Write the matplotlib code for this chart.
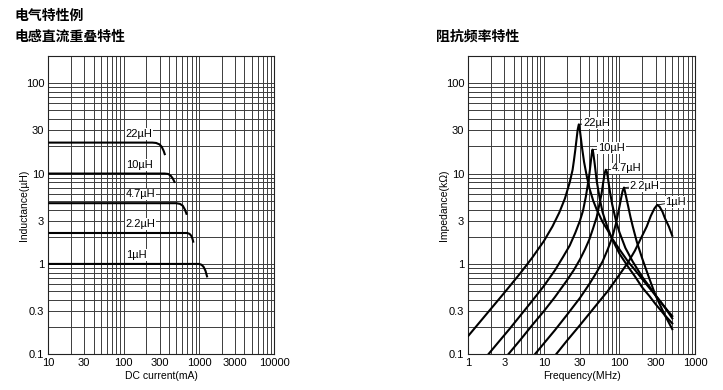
import matplotlib
matplotlib.use('Agg')
import matplotlib.pyplot as plt
from matplotlib.ticker import FixedLocator, FixedFormatter, NullFormatter

plt.rcParams['font.family'] = ['Liberation Sans', 'DejaVu Sans']

# --- DC bias characteristics (current mA -> inductance uH) ---
dc_names = ['22µH', '10µH', '4.7µH', '2.2µH', '1µH']
i_22 = [10, 240, 270, 300, 320, 340, 355]
l_22 = [22, 22, 21.8, 21, 19.8, 17.8, 16]
i_10 = [10, 350, 390, 420, 450, 480]
l_10 = [10, 10, 9.9, 9.5, 8.8, 7.9]
i_47 = [10, 500, 560, 610, 650, 690]
l_47 = [4.7, 4.7, 4.62, 4.4, 4.0, 3.5]
i_22b = [10, 700, 750, 790, 820, 845]
l_22b = [2.2, 2.2, 2.15, 2.05, 1.9, 1.72]
i_1 = [10, 1000, 1080, 1150, 1220, 1290]
l_1 = [1, 1, 0.98, 0.93, 0.84, 0.71]

# --- impedance vs frequency (MHz -> kOhm) ---
z_names = ['22µH', '10µH', '4.7µH', '2.2µH', '1µH']
f_22 = [1, 2, 3, 5, 7, 10, 13, 16, 19, 22, 24, 25, 26, 27, 28, 29, 30, 31, 32, 34,
        37, 40, 45, 50, 60, 70, 80, 100, 130, 160, 200, 250, 300, 400, 500]
z_22 = [0.16, 0.32, 0.48, 0.81, 1.17, 1.79, 2.6, 3.7, 5.3, 8.0, 11.0, 14.0, 18.0,
        23.5, 30.5, 35, 30, 24, 19.3, 13.5, 9.3, 6.9, 5.0, 4.0, 2.9, 2.35, 1.91,
        1.45, 1.06, 0.86, 0.68, 0.54, 0.45, 0.33, 0.265]
f_10 = [1.84, 2.5, 3.5, 5, 7, 10, 14, 18, 22, 26, 30, 33, 36, 38, 40, 42, 43, 44,
        45, 47, 50, 55, 60, 70, 80, 100, 130, 160, 200, 250, 300, 400, 500]
z_10 = [0.1, 0.136, 0.19, 0.275, 0.39, 0.57, 0.85, 1.2, 1.6, 2.2, 3.0, 3.9, 5.6,
        7.4, 9.8, 14, 16.5, 18.4, 17, 12.9, 8.3, 5.2, 3.7, 2.5, 1.88, 1.30, 0.93,
        0.73, 0.55, 0.44, 0.36, 0.27, 0.22]
f_47 = [3.38, 5, 7, 10, 14, 20, 25, 30, 35, 40, 45, 50, 55, 58, 61, 64, 66, 68,
        70, 75, 80, 90, 100, 120, 150, 200, 250, 300, 400, 500]
z_47 = [0.1, 0.148, 0.21, 0.30, 0.43, 0.65, 0.86, 1.12, 1.45, 1.87, 2.5, 3.3, 4.8,
        6.0, 8.0, 10.2, 11, 10.5, 9.2, 6.25, 4.6, 3.0, 2.24, 1.5, 1.06, 0.72, 0.56,
        0.45, 0.33, 0.25]
f_22b = [7.6, 10, 14, 20, 30, 40, 50, 60, 70, 80, 90, 100, 105, 110, 115, 120,
         130, 140, 150, 170, 200, 250, 300, 400, 500]
z_22b = [0.1, 0.132, 0.185, 0.27, 0.42, 0.6, 0.81, 1.07, 1.45, 1.95, 2.8, 4.3,
         5.3, 6.4, 7.0, 6.0, 4.4, 3.3, 2.6, 1.75, 1.15, 0.68, 0.45, 0.27, 0.19]
f_1 = [14.5, 20, 30, 50, 70, 100, 130, 160, 200, 230, 260, 290, 316, 340, 370,
       400, 450, 500]
z_1 = [0.1, 0.14, 0.21, 0.355, 0.5, 0.76, 1.04, 1.4, 2.05, 2.6, 3.4, 4.1, 4.5,
       4.3, 3.8, 3.2, 2.6, 2.05]

fig = plt.figure(figsize=(7.23, 3.9), dpi=100)
fig.patch.set_facecolor('white')

cjk = ['Noto Sans CJK SC', 'DejaVu Sans']
fig.text(0.02, 0.96, '电气特性例', family=cjk, fontsize=10, fontweight='bold', va='center')
fig.text(0.02, 0.905, '电感直流重叠特性', family=cjk, fontsize=10, fontweight='bold', va='center')
fig.text(0.603, 0.905, '阻抗频率特性', family=cjk, fontsize=10, fontweight='bold', va='center')

ax1 = fig.add_axes([0.0668, 0.0915, 0.3126, 0.765])
ax2 = fig.add_axes([0.6477, 0.0915, 0.3136, 0.765])


def style_axes(ax, xlim, xticks, xlabel, ylabel):
    ax.set_xscale('log')
    ax.set_yscale('log')
    ax.set_xlim(*xlim)
    ax.set_ylim(0.1, 200)
    xminor = [m * 10 ** e for e in range(-1, 5) for m in range(1, 10)]
    xminor = [v for v in xminor if xlim[0] < v < xlim[1] and v not in xticks]
    yticks = [0.1, 0.3, 1, 3, 10, 30, 100]
    yminor = [m * 10 ** e for e in range(-1, 3) for m in range(1, 10)]
    yminor = [v for v in yminor if 0.1 < v <= 200 and v not in yticks]
    ax.xaxis.set_major_locator(FixedLocator(xticks))
    ax.xaxis.set_major_formatter(FixedFormatter([f'{t:g}' for t in xticks]))
    ax.xaxis.set_minor_locator(FixedLocator(xminor))
    ax.xaxis.set_minor_formatter(NullFormatter())
    ax.yaxis.set_major_locator(FixedLocator(yticks))
    ax.yaxis.set_major_formatter(FixedFormatter([f'{t:g}' for t in yticks]))
    ax.yaxis.set_minor_locator(FixedLocator(yminor))
    ax.yaxis.set_minor_formatter(NullFormatter())
    ax.tick_params(which='both', length=0, labelsize=8, pad=3)
    ax.grid(which='both', color='#3c3c3c', lw=0.7)
    ax.set_axisbelow(True)
    for s in ax.spines.values():
        s.set_color('#222222')
        s.set_linewidth(0.8)
    ax.set_xlabel(xlabel, fontsize=7.5, labelpad=2)
    ax.set_ylabel(ylabel, fontsize=7.5)
    ax.yaxis.set_label_coords(-0.085, 0.5)


style_axes(ax1, (10, 10000), [10, 30, 100, 300, 1000, 3000, 10000],
           'DC current(mA)', 'Inductance(µH)')
style_axes(ax2, (1, 1000), [1, 3, 10, 30, 100, 300, 1000],
           'Frequency(MHz)', 'Impedance(kΩ)')

box = dict(facecolor='white', edgecolor='none', pad=0.6)

dc_series = [(i_22, l_22), (i_10, l_10), (i_47, l_47), (i_22b, l_22b), (i_1, l_1)]
for name, (xs, ys) in zip(dc_names, dc_series):
    ax1.plot(xs, ys, color='black', lw=1.5, solid_capstyle='butt', zorder=3)
    ax1.text(107, ys[0] * 1.25, name, fontsize=8, ha='left', va='center',
             bbox=box, zorder=4)

z_series = [(f_22, z_22), (f_10, z_10), (f_47, z_47), (f_22b, z_22b), (f_1, z_1)]
offsets = [(3, 1), (4, 1), (4, 1), (4, 1), (6, 2)]
for name, (xs, ys), off in zip(z_names, z_series, offsets):
    ax2.plot(xs, ys, color='black', lw=1.5, zorder=3)
    k = ys.index(max(ys))
    ax2.annotate(name, xy=(xs[k], ys[k]), xytext=off, textcoords='offset points',
                 fontsize=8, ha='left', va='center', bbox=box, zorder=4,
                 arrowprops=dict(arrowstyle='-', lw=0.6, color='black',
                                 shrinkA=0, shrinkB=0))

fig.savefig('out.png', dpi=100)
